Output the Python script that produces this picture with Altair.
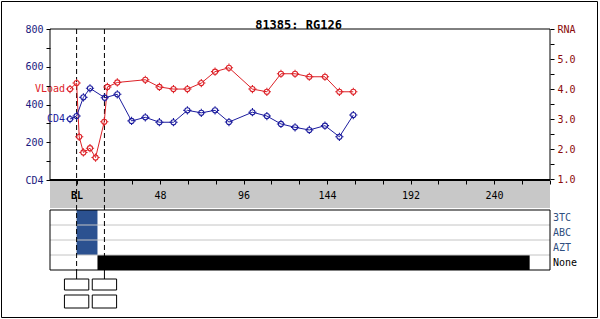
import altair as alt
import pandas as pd

# ---------------- data ----------------
TITLE = "81385: RG126"

vl_weeks = [-3.8, 0, 1.5, 3.9, 7.7, 10.9, 15.9, 17.7, 23.4, 39.5, 47.6, 55.7,
            63.7, 71.7, 79.6, 87.6, 101.1, 109.4, 117.5, 125.6, 133.8, 142.8, 151.1, 159.1]
vl_values = [4.0, 4.2, 2.41, 1.89, 2.03, 1.72, 2.91, 4.07, 4.22, 4.31, 4.07, 4.0,
             4.0, 4.2, 4.58, 4.71, 4.0, 3.91, 4.51, 4.51, 4.41, 4.41, 3.91, 3.91]

cd4_weeks = [-3.8, 0, 3.9, 7.7, 16.2, 23.4, 31.6, 39.5, 47.6, 55.7, 63.7, 71.7,
             79.6, 87.6, 101.1, 109.4, 117.5, 125.6, 133.8, 142.8, 151.1, 159.1]
cd4_values = [323, 339, 438, 486, 436, 454, 313, 332, 306, 306, 369, 356,
              369, 307, 359, 339, 297, 279, 265, 288, 229, 344]

drugs = ["3TC", "ABC", "AZT", "None"]
drug_label_colors = ["#2f4f80", "#2f4f80", "#2f4f80", "#000000"]
bar_drug = ["3TC", "ABC", "AZT", "None"]
bar_start = [0, 0, 0, 12]
bar_end = [12, 12, 12, 260.5]
bar_color = ["#2b5190", "#2b5190", "#2b5190", "#000000"]

event_weeks = [0, 16]

x_ticks = list(range(0, 273, 16))
cd4_ticks = list(range(0, 801, 100))
rna_ticks = [1 + 0.5 * i for i in range(11)]

# ---------------- frames ----------------
vl_df = pd.DataFrame({"week": vl_weeks, "rna": vl_values})
cd4_df = pd.DataFrame({"week": cd4_weeks, "cd4": cd4_values})
vl_lab = pd.DataFrame({"week": [vl_weeks[0]], "rna": [vl_values[0]], "t": ["VLoad"]})
cd4_lab = pd.DataFrame({"week": [cd4_weeks[0]], "cd4": [cd4_values[0]], "t": ["CD4"]})
bars_df = pd.DataFrame({"drug": bar_drug, "start": bar_start, "end": bar_end, "c": bar_color})
drug_df = pd.DataFrame({"drug": drugs, "c": drug_label_colors})
sep_df = pd.DataFrame({"drug": drugs[1:]})
ev_df = pd.DataFrame({"week": event_weeks})
title_df = pd.DataFrame({"t": [TITLE]})
one = pd.DataFrame({"k": [0]})

MONO = "DejaVu Sans Mono"
RED = "#dd2228"
BLUE = "#1c1c9e"

XS = alt.Scale(domain=[-15.3, 272.2], nice=False, zero=False)
XAX = alt.Axis(orient="bottom", offset=-128, values=x_ticks, domain=False,
               tickSize=4, tickColor="black", labelColor="black", labelFont=MONO,
               labelFontSize=10, labelPadding=6, labelOverlap=False, grid=False,
               labelExpr="datum.value == 0 ? 'BL' : (datum.value % 48 == 0 ? datum.label : '')",
               labelFontWeight={"expr": "datum.value == 0 ? 'bold' : 'normal'"},
               zindex=1, title=None)


def X(field):
    return alt.X(field, type="quantitative", scale=XS, axis=XAX, title=None)


CD4S = alt.Scale(domain=[-678.1, 800], nice=False, zero=False)
RNAS = alt.Scale(domain=[-3.29, 6], nice=False, zero=False)
CD4AX = alt.Axis(orient="left", values=cd4_ticks, domain=False, tickSize=4,
                 tickColor="black", labelColor="#1a1a80", labelFont=MONO,
                 labelFontSize=10, labelPadding=3, labelOverlap=False, grid=False,
                 labelExpr="datum.value == 0 ? 'CD4' : (datum.value % 200 == 0 ? datum.label : '')",
                 zindex=1, title=None)
RNAAX = alt.Axis(orient="right", values=rna_ticks, domain=False, tickSize=4,
                 tickColor="black", labelColor="#8b0a0a", labelFont=MONO,
                 labelFontSize=10, labelPadding=3, labelOverlap=False, grid=False,
                 labelExpr="datum.value == 6 ? 'RNA' : (datum.value % 1 == 0 ? format(datum.value, '.1f') : '')",
                 zindex=1, title=None)
DS = alt.Scale(domain=drugs, range=[181, 241], paddingInner=0, paddingOuter=0)

MARK = ("M0.62,0A0.62,0.62,0,1,1,-0.62,0A0.62,0.62,0,1,1,0.62,0Z"
        "M-1,0L-0.62,0M0.62,0L1,0M0,-1L0,-0.62M0,0.62L0,1")

# ---------------- decorations ----------------
outer = alt.Chart(one).mark_rect(fill=None, stroke="black", strokeWidth=1).encode(
    x=alt.value(-48.5), x2=alt.value(547.5), y=alt.value(-27.5), y2=alt.value(288.5))
band = alt.Chart(one).mark_rect(fill="#c8c8c8").encode(
    x=alt.value(0), x2=alt.value(500), y=alt.value(151), y2=alt.value(179))
frame = alt.Chart(one).mark_rect(fill=None, stroke="black", strokeWidth=1).encode(
    x=alt.value(0), x2=alt.value(500), y=alt.value(0), y2=alt.value(151))
bottom = alt.Chart(one).mark_rule(stroke="black", strokeWidth=2).encode(
    x=alt.value(0), x2=alt.value(500), y=alt.value(151))
title = alt.Chart(title_df).mark_text(font=MONO, fontSize=12, fontWeight="bold",
                                      color="black", baseline="middle").encode(
    text="t:N", x=alt.value(248.5), y=alt.value(-4.5))

# ---------------- lines ----------------
vl_line = alt.Chart(vl_df).mark_line(color=RED, strokeWidth=1).encode(
    x=X("week"), y=alt.Y("rna:Q", scale=RNAS, axis=RNAAX, title=None))
vl_pts = alt.Chart(vl_df).mark_point(shape=MARK, filled=False, stroke=RED, size=68,
                                     strokeWidth=1.1, opacity=1).encode(
    x=X("week"), y=alt.Y("rna:Q", scale=RNAS, axis=None))
vl_txt = alt.Chart(vl_lab).mark_text(font=MONO, fontSize=10, color=RED, align="right",
                                     baseline="middle", dx=-5).encode(
    x=X("week"), y=alt.Y("rna:Q", scale=RNAS, axis=None), text="t:N")

cd4_line = alt.Chart(cd4_df).mark_line(color=BLUE, strokeWidth=1).encode(
    x=X("week"), y=alt.Y("cd4:Q", scale=CD4S, axis=CD4AX, title=None))
cd4_pts = alt.Chart(cd4_df).mark_point(shape=MARK, filled=False, stroke=BLUE, size=68,
                                       strokeWidth=1.1, opacity=1).encode(
    x=X("week"), y=alt.Y("cd4:Q", scale=CD4S, axis=None))
cd4_txt = alt.Chart(cd4_lab).mark_text(font=MONO, fontSize=10, color=BLUE, align="right",
                                       baseline="middle", dx=-5).encode(
    x=X("week"), y=alt.Y("cd4:Q", scale=CD4S, axis=None), text="t:N")

# ---------------- drug panel ----------------
bars = alt.Chart(bars_df).mark_rect().encode(
    x=X("start"), x2="end",
    y=alt.Y("drug:N", scale=DS, axis=None),
    color=alt.Color("c:N", scale=None))
seps = alt.Chart(sep_df).mark_rule(stroke="#c4c4c4", strokeWidth=1).encode(
    x=alt.value(0), x2=alt.value(500),
    y=alt.Y("drug:N", scale=DS, axis=None, bandPosition=0))
panel = alt.Chart(one).mark_rect(fill=None, stroke="black", strokeWidth=1).encode(
    x=alt.value(0), x2=alt.value(500), y=alt.value(181), y2=alt.value(241))
drug_txt = alt.Chart(drug_df).mark_text(font=MONO, fontSize=10, align="left",
                                        baseline="middle").encode(
    x=alt.value(503),
    y=alt.Y("drug:N", scale=DS, axis=None, bandPosition=0.5),
    text="drug:N", color=alt.Color("c:N", scale=None))

# ---------------- event lines and boxes ----------------
ev_dash = alt.Chart(ev_df).mark_rule(stroke="black", strokeWidth=1, strokeDash=[5, 3]).encode(
    x=X("week"), y=alt.value(0), y2=alt.value(241))
ev_solid = alt.Chart(ev_df).mark_rule(stroke="black", strokeWidth=1).encode(
    x=X("week"), y=alt.value(241), y2=alt.value(250))
box_base = alt.Chart(ev_df).transform_calculate(lo="datum.week - 7", hi="datum.week + 7")
box1 = box_base.mark_rect(fill="white", stroke="black", strokeWidth=1).encode(
    x=X("lo:Q"), x2="hi:Q", y=alt.value(250), y2=alt.value(261))
box2 = box_base.mark_rect(fill="white", stroke="black", strokeWidth=1).encode(
    x=X("lo:Q"), x2="hi:Q", y=alt.value(266), y2=alt.value(279))

chart = alt.layer(
    outer, band, frame, bars, seps, panel, drug_txt,
    ev_dash, ev_solid, box1, box2,
    vl_line, cd4_line, vl_pts, cd4_pts, vl_txt, cd4_txt, bottom, title,
).resolve_scale(y="independent").properties(
    width=500, height=279,
    autosize=alt.AutoSizeParams(type="none"),
    padding={"left": 50, "top": 29, "right": 50, "bottom": 11},
    background="white",
).configure_view(strokeWidth=0)

chart.save("out.html", embed_options={"renderer": "svg", "actions": False})
